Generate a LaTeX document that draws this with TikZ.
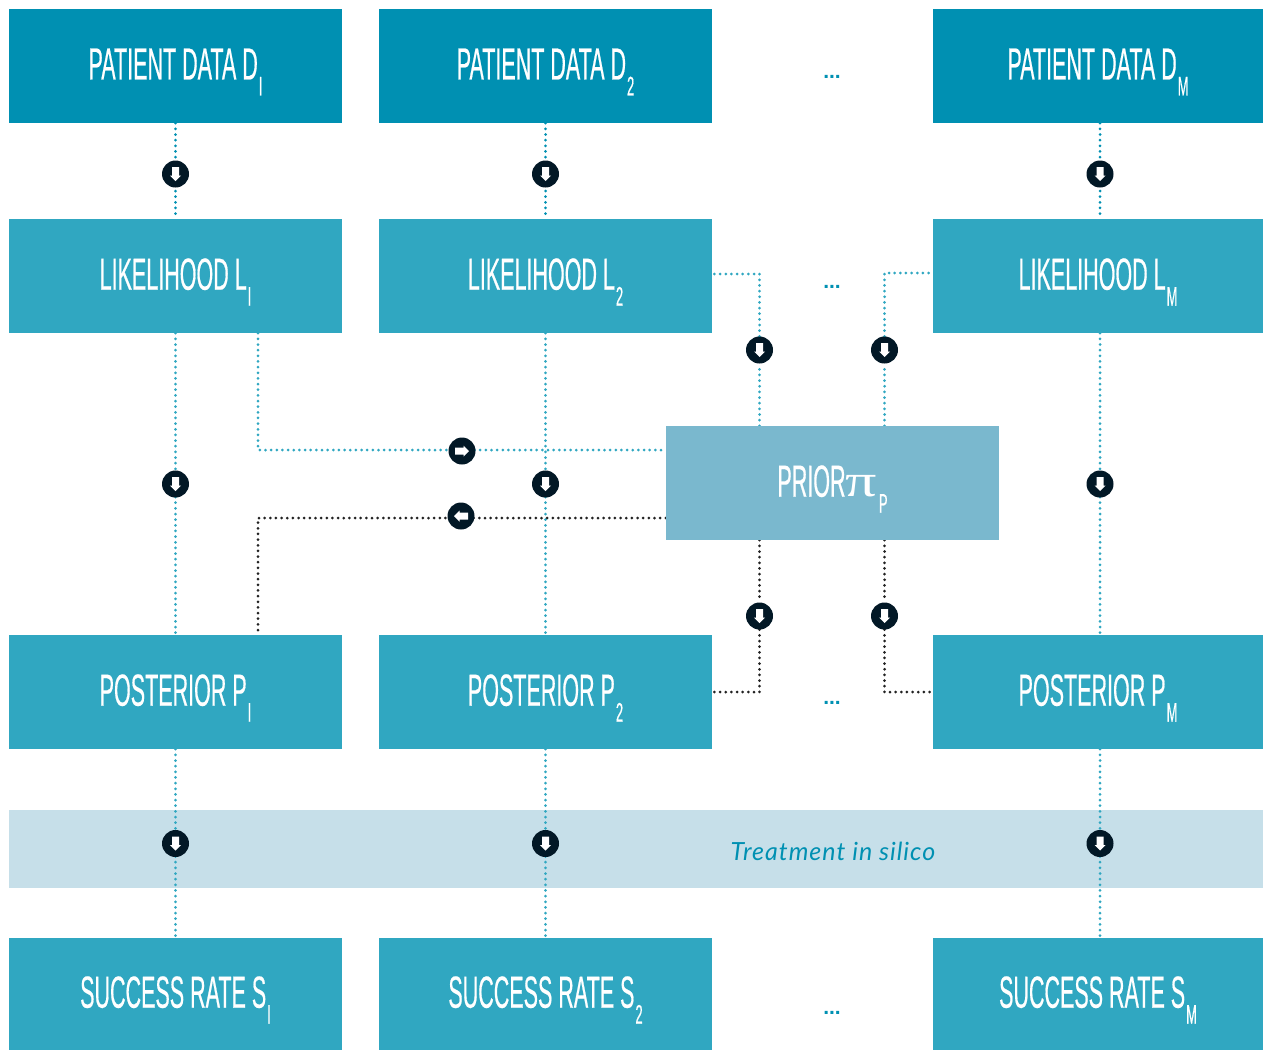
\documentclass[tikz,border=0pt]{standalone}
\usepackage{fontspec}
\usetikzlibrary{backgrounds}
\setmainfont[FakeStretch=0.478,FakeBold=0.4]{Liberation Sans}
\newfontfamily\treatfont[ItalicFont=Lato Italic,LetterSpace=4]{Lato}
\newfontfamily\pifont[FakeStretch=1.35]{Liberation Serif}
\newfontfamily\gapfont{Liberation Sans Bold}
\definecolor{deepteal}{HTML}{0090B2}
\definecolor{midteal}{HTML}{30A7C1}
\definecolor{priorblue}{HTML}{7AB8CE}
\definecolor{bandblue}{HTML}{C6DFE9}
\definecolor{badgeink}{HTML}{021826}
\definecolor{darkdot}{HTML}{222222}
\newcommand{\subpart}[1]{\raisebox{-16pt}[0pt][4pt]{\fontsize{27}{27}\selectfont #1}}
\newcommand{\sublabel}[2]{#1\hspace{1pt}\subpart{#2}}
\tikzset{
    boxbase/.style={minimum height=114pt,inner sep=0pt,text=white,font=\fontsize{45}{45}\selectfont},
    narrowbox/.style={boxbase,minimum width=333pt,fill=midteal},
    widebox/.style={boxbase,minimum width=330pt,fill=midteal},
    dotline/.style={line width=3pt,line cap=round,dash pattern=on 0pt off 5.65pt},
    tealline/.style={dotline,midteal},
    deepline/.style={dotline,deepteal},
    darkline/.style={dotline,darkdot},
    badge/.style={circle,fill=badgeink,minimum size=27pt,inner sep=0pt},
    dnbadge/.style={badge,path picture={\fill[white,shift={(path picture bounding box.center)}]
        (-3.5,-7) -- (3.5,-7) -- (3.5,1.5) -- (5.5,1.5) -- (0,7) -- (-5.5,1.5) -- (-3.5,1.5) -- cycle;}},
    rtbadge/.style={badge,path picture={\fill[white,shift={(path picture bounding box.center)}]
        (-7,-3.5) -- (-7,3.5) -- (1.5,3.5) -- (1.5,5.5) -- (7,0) -- (1.5,-5.5) -- (1.5,-3.5) -- cycle;}},
    ltbadge/.style={badge,path picture={\fill[white,shift={(path picture bounding box.center)}]
        (7,-3.5) -- (7,3.5) -- (-1.5,3.5) -- (-1.5,5.5) -- (-7,0) -- (-1.5,-5.5) -- (-1.5,-3.5) -- cycle;}},
    dots/.style={text=deepteal,font=\gapfont\fontsize{21}{21}\selectfont,inner sep=0pt}
}
\begin{document}
\begin{tikzpicture}[x=1pt,y=-1pt]
    \useasboundingbox (0,0) rectangle (1263,1050);
    % data row
    \node[narrowbox,fill=deepteal] (d1) at (175.5,66) {\sublabel{PATIENT DATA D}{I}};
    \node[narrowbox,fill=deepteal] (d2) at (545.5,66) {\sublabel{PATIENT DATA D}{2}};
    \node[widebox,fill=deepteal] (dm) at (1098,66) {\sublabel{PATIENT DATA D}{M}};
    % likelihood row
    \node[narrowbox] (l1) at (175.5,276) {\sublabel{LIKELIHOOD L}{I}};
    \node[narrowbox] (l2) at (545.5,276) {\sublabel{LIKELIHOOD L}{2}};
    \node[widebox] (lm) at (1098,276) {\sublabel{LIKELIHOOD L}{M}};
    % prior
    \node[narrowbox,fill=priorblue] (prior) at (832.5,483) {PRIOR{\pifont\fontsize{46}{46}\selectfont π}\hspace{2pt}\subpart{P}};
    % posterior row
    \node[narrowbox] (p1) at (175.5,692) {\sublabel{POSTERIOR P}{I}};
    \node[narrowbox] (p2) at (545.5,692) {\sublabel{POSTERIOR P}{2}};
    \node[widebox] (pm) at (1098,692) {\sublabel{POSTERIOR P}{M}};
    % success row
    \node[narrowbox,minimum height=112pt] (s1) at (175.5,994) {\sublabel{SUCCESS RATE S}{I}};
    \node[narrowbox,minimum height=112pt] (s2) at (545.5,994) {\sublabel{SUCCESS RATE S}{2}};
    \node[widebox,minimum height=112pt] (sm) at (1098,994) {\sublabel{SUCCESS RATE S}{M}};
    % column gaps
    \node[dots] (gapd) at (832,77) {...};
    \node[dots] (gapl) at (832,287) {...};
    \node[dots] (gapp) at (832,703) {...};
    \node[dots] (gaps) at (832,1013) {...};
    % badges
    \node[dnbadge] (a1) at (175.5,174) {};
    \node[dnbadge] (a2) at (545.5,174) {};
    \node[dnbadge] (am) at (1100,174) {};
    \node[dnbadge] (b1) at (175.5,484) {};
    \node[dnbadge] (b2) at (545.5,484) {};
    \node[dnbadge] (bm) at (1100,484) {};
    \node[dnbadge] (c1) at (175.5,843.5) {};
    \node[dnbadge] (c2) at (545.5,843.5) {};
    \node[dnbadge] (cm) at (1100,843.5) {};
    \node[dnbadge] (ql) at (759.5,350) {};
    \node[dnbadge] (qr) at (884.5,350) {};
    \node[dnbadge] (rl) at (759.5,616) {};
    \node[dnbadge] (rr) at (884.5,616) {};
    \node[rtbadge] (to) at (462,451) {};
    \node[ltbadge] (from) at (461,516) {};
    \node[text=deepteal] (treat) at (833,851) {\treatfont\fontsize{25}{25}\selectfont\itshape Treatment in silico};
    \begin{pgfonlayer}{background}
        \node[fill=bandblue,minimum width=1254pt,minimum height=78pt,inner sep=0pt] (band) at (636,849) {};
        \draw[deepline] (d1.south) -- (l1.north);
        \draw[deepline] (d2.south) -- (l2.north);
        \draw[deepline] (am |- dm.south) -- (am |- lm.north);
        \draw[tealline] (l1.south) -- (p1.north);
        \draw[tealline] (l2.south) -- (p2.north);
        \draw[tealline] (bm |- lm.south) -- (bm |- pm.north);
        \draw[tealline] (p1.south) -- (s1.north);
        \draw[tealline] (p2.south) -- (s2.north);
        \draw[tealline] (cm |- pm.south) -- (cm |- sm.north);
        % prior links
        \draw[tealline] (ql |- prior.north) -- (ql) |- ([yshift=2pt]l2.east);
        \draw[tealline] (qr |- prior.north) -- (qr) |- ([yshift=3pt]lm.west);
        \draw[tealline] ([xshift=82.5pt]l1.south) |- ([yshift=33pt]prior.west);
        \draw[darkline] ([yshift=-35pt]prior.west) -| ([xshift=82.5pt]p1.north);
        \draw[darkline] (rl |- prior.south) -- (rl) |- (p2.east);
        \draw[darkline] (rr |- prior.south) -- (rr) |- (pm.west);
    \end{pgfonlayer}
\end{tikzpicture}
\end{document}
